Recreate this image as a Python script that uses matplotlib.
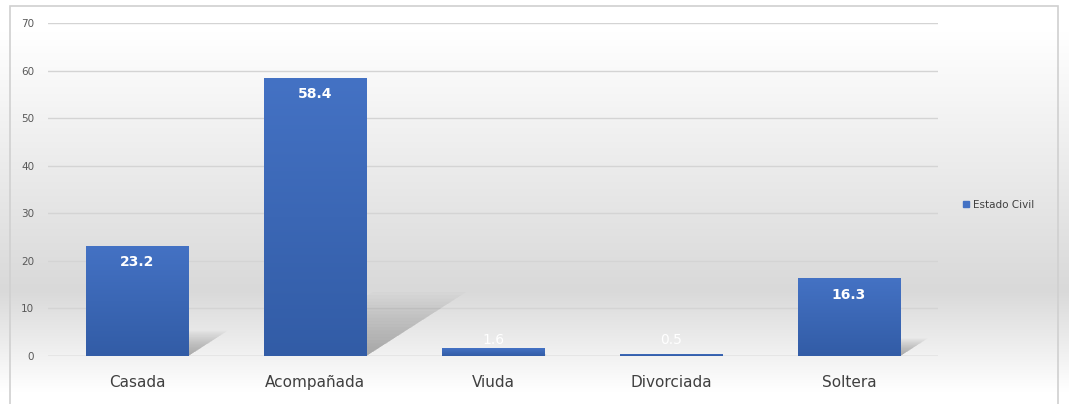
import numpy as np
import matplotlib
matplotlib.use("Agg")
import matplotlib.pyplot as plt
from matplotlib.colors import LinearSegmentedColormap
from matplotlib.patches import Polygon, Rectangle
from matplotlib.lines import Line2D

# datos
categorias = ["Casada", "Acompañada", "Viuda", "Divorciada", "Soltera"]
valores = [23.2, 58.4, 1.6, 0.5, 16.3]
serie = "Estado Civil"
yticks = [0, 10, 20, 30, 40, 50, 60, 70]

fig = plt.figure(figsize=(10.69, 4.04), dpi=100)

# fondo con degradado vertical
bg = fig.add_axes([0, 0, 1, 1], zorder=-2)
bg_cmap = LinearSegmentedColormap.from_list(
    "bg", [(0, "#ffffff"), (0.08, "#ffffff"), (0.72, "#d9d9d9"), (0.97, "#ffffff"), (1, "#ffffff")])
grad = np.linspace(0, 1, 256).reshape(-1, 1)
bg.imshow(grad, cmap=bg_cmap, aspect="auto", extent=[0, 1, 0, 1], origin="upper")
bg.set_xlim(0, 1)
bg.set_ylim(0, 1)
bg.axis("off")
# borde del grafico
bg.add_patch(Rectangle((10 / 1069, -0.05), 1048 / 1069, 1.05 - 6 / 404,
                       fill=False, edgecolor="#d0d0d0", lw=1.2))

ax = fig.add_axes([48 / 1069, 48 / 404, 890 / 1069, 333 / 404])
ax.set_facecolor("none")

x = np.arange(len(categorias))
ancho = 0.575
bar_cmap = LinearSegmentedColormap.from_list("bar", ["#325ca6", "#4472c4"])

# sombras
for xi, v in zip(x, valores):
    x0, x1 = xi - ancho / 2, xi + ancho / 2
    dx = 0.0096 * v
    dy = 0.23 * v
    n = 20
    for k in range(n):
        f = 1 - k / n
        sh = Polygon([(x0 + 0.05, 0), (x1, 0), (x1 + dx * f, dy * f), (x0 + 0.05 + dx * f, dy * f)],
                     closed=True, facecolor="#707070", alpha=0.035, lw=0, zorder=1)
        ax.add_patch(sh)

barras = ax.bar(x, valores, width=ancho, color="#3d69b8", zorder=3,
                edgecolor="#5a84cc", linewidth=0.6, label=serie)

for b in barras:
    bx, by = b.get_x(), b.get_y()
    bw, bh = b.get_width(), b.get_height()
    im = ax.imshow(grad, cmap=bar_cmap, aspect="auto",
                   extent=[bx, bx + bw, by, by + bh], origin="lower", zorder=3.5)
    im.set_clip_path(b)

for xi, v in zip(x, valores):
    ypos = v - 3.4 if v > 5 else 3.4
    ax.text(xi, ypos, f"{v}", ha="center", va="center", color="white",
            fontsize=10, fontweight="bold" if v > 5 else "normal", zorder=5)

ax.set_xlim(-0.5, len(categorias) - 0.5)
ax.set_ylim(0, 70)
ax.set_yticks(yticks)
ax.set_xticks(x)
ax.set_xticklabels(categorias, fontsize=11, color="#404040")
ax.tick_params(axis="y", labelsize=7.5, colors="#595959", length=0, pad=10)
ax.tick_params(axis="x", length=0, pad=14)
ax.grid(axis="y", color="#d4d4d4", linewidth=1, zorder=0)
ax.set_axisbelow(True)
for s in ax.spines.values():
    s.set_visible(False)
ax.axhline(0, color="#d0d0d0", lw=1, zorder=2)

handle = Line2D([], [], marker="s", color="#4472c4", linestyle="none", markersize=4)
fig.legend([handle], [serie], loc="center left", bbox_to_anchor=(953 / 1069, 1 - 205 / 404),
           frameon=False, fontsize=7.5, handlelength=0.6, handletextpad=0.4, labelcolor="#404040")

fig.savefig("out.png", dpi=100)
